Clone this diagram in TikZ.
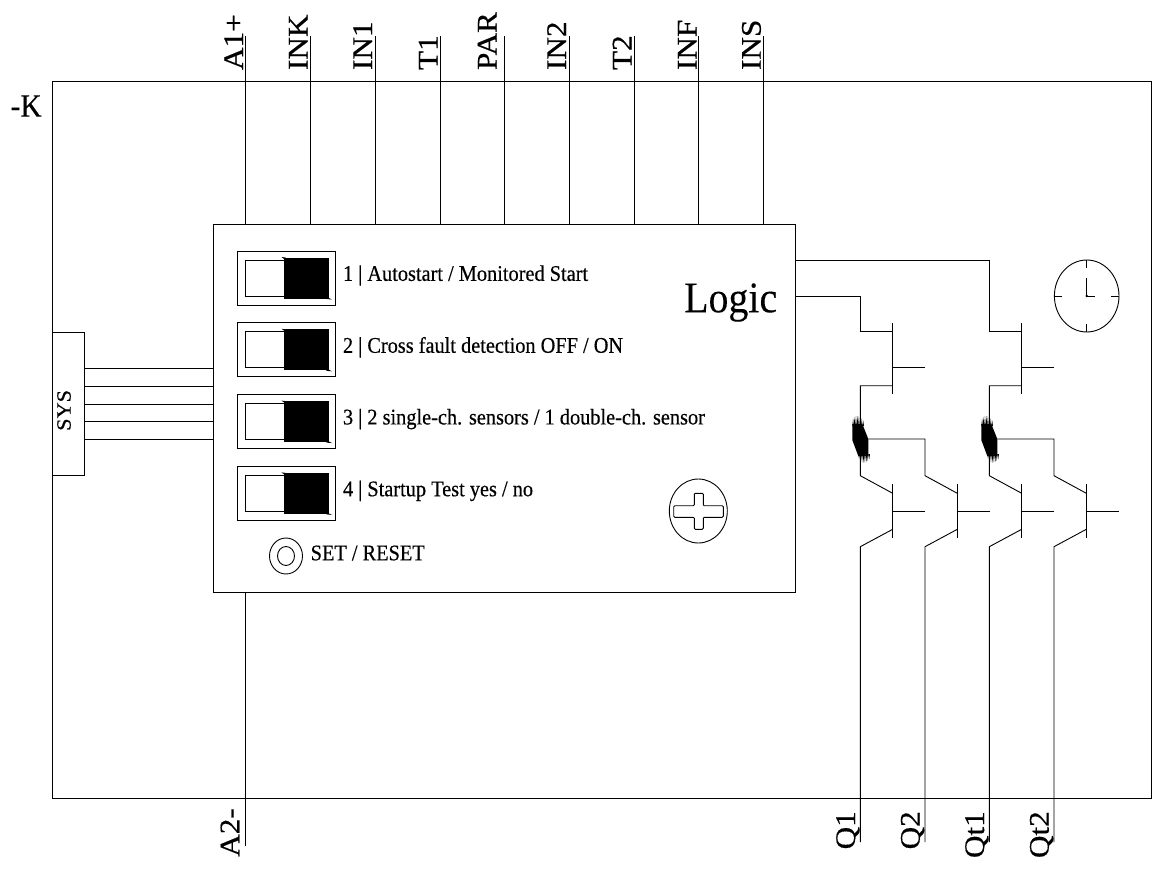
\documentclass[tikz,border=0pt]{standalone}
\usepackage{fontspec}
\usetikzlibrary{shapes.geometric}
\setmainfont[FakeBold=0.4]{Liberation Serif}
\newfontfamily\logicfont[FakeBold=0.1]{Liberation Serif}
\newcommand{\hlab}[2]{\scalebox{1}[1.1]{\fontsize{#1}{#1}\selectfont #2}}
\newcommand{\vlab}[2]{\rotatebox{90}{\scalebox{1.1}[1]{\fontsize{#1}{#1}\selectfont #2}}}
\tikzset{
  wire/.style={line width=0.9bp,black,line cap=butt,line join=miter},
  box/.style={draw,line width=0.9bp,inner sep=0pt,outer sep=0pt,anchor=north west,rectangle},
  oval/.style={draw,ellipse,line width=0.9bp,inner sep=0pt,outer sep=0pt},
  toplab/.style={anchor=south east,inner sep=0pt,outer sep=0pt},
  swlab/.style={anchor=west,inner sep=0pt,outer sep=0pt}
}
\begin{document}
\begin{tikzpicture}[x=1bp,y=-1bp]
\useasboundingbox (0,0) rectangle (1154,871);
% frames
\node[box,minimum width=1099bp,minimum height=717bp] (outer) at (52,81) {};
\node[box,fill=white,minimum width=582bp,minimum height=368bp] (logic) at (213,224) {};
\node[box,fill=white,minimum width=32bp,minimum height=143bp] (sys) at (52,332) {};
\node[anchor=south east,inner sep=0pt] (syslab) at (71,431) {\vlab{20.3}{SYS}};
\node[anchor=west,inner sep=0pt] (minusk) at (10.5,106) {\hlab{29.5}{-K}};
\node[anchor=west,inner sep=0pt] (logiclab) at (684,302.5) {\hlab{40}{\logicfont Logic}};
% top terminals
\foreach \n/\x/\d/\t in {a/245/2/A1+,b/310.5/3/INK,c/375/3/IN1,d/440/2.5/T1,e/504.5/8/PAR,f/569/3/IN2,g/634/2.5/T2,h/698.5/2/INF,i/763/2/INS}{
  \coordinate (top\n) at (\x,36);
  \draw[wire] (top\n) -- (top\n |- logic.north);
  \node[toplab] (lab\n) at (\x-\d,70) {\vlab{28.5}{\t}};
}
% A2-
\coordinate (a2end) at (245,846);
\draw[wire] (a2end |- logic.south) -- (a2end);
\node[anchor=north east,inner sep=0pt] (laba2) at (239.5,808) {\vlab{28.5}{A2-}};
% SYS wires
\foreach \y/\n in {368/1,386/2,404/3,421.5/4,439.5/5}{
  \coordinate (s\n) at (84,\y);
  \draw[wire] (s\n) -- (s\n -| logic.west);
}
% switches
\foreach \n/\y/\t in {1/251/{1 | Autostart / Monitored Start},2/322.8/{2 | Cross fault detection OFF / ON},3/394.6/{3 | 2 single-ch. sensors / 1 double-ch. sensor},4/466.4/{4 | Startup Test yes / no}}{
  \node[box,minimum width=98bp,minimum height=54bp] (sw\n) at (237.3,\y) {};
  \node[box,minimum width=39bp,minimum height=36bp] (sww\n) at (245.3,\y+9) {};
  \node[box,fill=black,minimum width=44.5bp,minimum height=40bp] (swb\n) at (284,\y+7) {};
  \fill[black] (281.5,\y+6) -- (285.5,\y+6.5) -- (285.5,\y+9) -- cycle;
  \fill[black] (332,\y+48.5) -- (326,\y+45.5) -- (326.5,\y+48) -- cycle;
  \node[swlab] (swl\n) at (343,\y+24.5) {\hlab{20.4}{\t}};
}
% set/reset button
\node[oval,minimum width=33bp,minimum height=36bp] (btn) at (286,556) {};
\node[oval,minimum width=17bp,minimum height=19bp] (btni) at (286,556) {};
\node[anchor=west,inner sep=0pt] (setlab) at (310.5,553) {\hlab{20.4}{SET / RESET}};
% screw
\node[oval,minimum width=58bp,minimum height=64bp] (screw) at (698.3,511) {};
\draw[wire,rounded corners=1bp] (694.3,493.3) -- (703.3,493.3) -- (703.3,505.7) -- (723.3,505.7) -- (723.3,517.3) -- (703.3,517.3) -- (703.3,529.3) -- (694.3,529.3) -- (694.3,517.3) -- (673.7,517.3) -- (673.7,505.7) -- (694.3,505.7) -- cycle;
% clock
\node[oval,minimum width=64.6bp,minimum height=72bp] (clock) at (1086.7,296) {};
\draw[wire] (clock.north) -- ++(0,8);
\draw[wire] (clock.south) -- ++(0,-8);
\draw[wire] (clock.west) -- ++(8,0);
\draw[wire] (clock.east) -- ++(-8,0);
\draw[wire] (clock.center) -- ++(0,-18);
\draw[wire] (clock.center) -- ++(8,0);
\fill (clock.center) circle (1.3);
% transistor chains
\foreach \n/\a/\ya in {1/860.3/296,2/989.3/260}{
  \pgfmathsetmacro{\bara}{\a+32.4}
  \pgfmathsetmacro{\gt}{\a+64.7}
  \pgfmathsetmacro{\ba}{\a+97}
  \pgfmathsetmacro{\gb}{\a+129.3}
  \coordinate (in\n) at (\a,\ya);
  \draw[wire] (in\n -| logic.east) -- (in\n) -- (\a,331.7) -- (\bara,331.7);
  \draw[wire] (\bara,323.3) -- (\bara,394.3);
  \draw[wire] (\bara,367.7) -- (\gt,367.7);
  \draw[wire] (\bara,385.7) -- (\a,385.7) -- (\a,475.7) -- (\bara,493.3);
  \draw[wire] (\bara,484.3) -- (\bara,538.3);
  \draw[wire] (\bara,511.7) -- (\gt,511.7);
  \draw[wire] (\bara,529.3) -- (\a,546.7) -- (\a,842);
  % second
  \draw[wire] (\a+8,439) -- (\gt,439) -- (\gt,475.7) -- (\ba,493.3);
  \draw[wire] (\ba,484.3) -- (\ba,538.3);
  \draw[wire] (\ba,511.7) -- (\gb,511.7);
  \draw[wire] (\ba,529.3) -- (\gt,546.7) -- (\gt,842);
  % blob
  \fill[black] (\a-8,424) -- (\a+2,424) -- (\a+8,439) -- (\a+8,456) -- (\a-2,456) -- (\a-8,440) -- cycle;
  \foreach \i in {0,1,...,7}{
    \fill[black] (\a-8+\i*1.45,426) -- (\a-7.2+\i*1.45,415.7+0.3*\i*\i-1.8*\i+2.7) -- (\a-6.5+\i*1.45,426) -- cycle;
    \fill[black] (\a-2+\i*1.45,454) -- (\a-1.2+\i*1.45,463-0.3*\i*\i+2.1*\i-3.7) -- (\a-0.5+\i*1.45,454) -- cycle;
  }
}
% bottom labels
\foreach \n/\x/\t in {p/860.3/Q1,q/925/Q2,r/989.3/Qt1,s/1054/Qt2}{
  \node[anchor=north east,inner sep=0pt] (q\n) at (\x-0.5,811) {\vlab{28.5}{\t}};
}
\end{tikzpicture}
\end{document}
